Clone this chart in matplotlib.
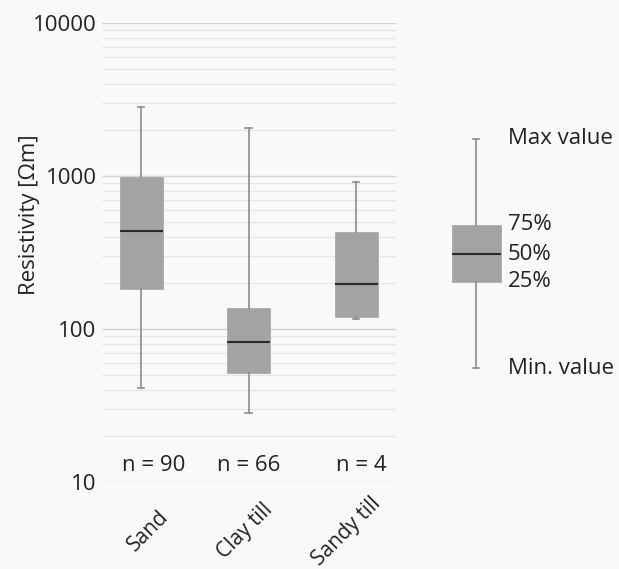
import matplotlib
matplotlib.use("Agg")
import matplotlib.pyplot as plt

plt.rcParams['font.family'] = ['Open Sans', 'DejaVu Sans']

# data (resistivity, ohm-m)
categories = ["Sand", "Clay till", "Sandy till"]
n_labels = ["n = 90", "n = 66", "n = 4"]
whisker_lo = [41, 28.3, 117]
q1 = [182, 51.5, 120]
median = [437, 82, 197]
q3 = [985, 137, 430]
whisker_hi = [2825, 2060, 915]

# explanatory key box on the right
key_stats = [55.6, 203, 309, 479, 1746]
key_labels = ["Min. value", "25%", "50%", "75%", "Max value"]

BG = "#f9f9f9"
BOX = "#a5a2a4"
TXT = "#222222"
FS = 16

fig = plt.figure(figsize=(6.19, 5.69), dpi=100, facecolor=BG)
ax = fig.add_axes([102/619, 1 - 482/569, 1 - 102/619, (482 - 23)/569])
ax.set_facecolor(BG)
ax.set_yscale('log')
ax.set_ylim(10, 10000)
ax.set_xlim(-0.363, 4.446)
for s in ax.spines.values():
    s.set_visible(False)

# grid lines only across the category area
grid_x0, grid_x1 = -0.363, 2.372
for dec in [10, 100, 1000]:
    for m in range(2, 10):
        ax.hlines(dec*m, grid_x0, grid_x1, color="#e6e6e6", lw=0.9, zorder=0)
for v in [10, 100, 1000, 10000]:
    ax.hlines(v, grid_x0, grid_x1, color="#d4d4d4", lw=1.0, zorder=0)

stats = []
for i in range(len(categories)):
    stats.append(dict(whislo=whisker_lo[i], q1=q1[i], med=median[i],
                      q3=q3[i], whishi=whisker_hi[i], fliers=[]))

style = dict(
    patch_artist=True,
    boxprops=dict(facecolor=BOX, edgecolor=BOX, lw=0.5),
    medianprops=dict(color="#2a2a2a", lw=1.5),
    whiskerprops=dict(color="#8c8c8c", lw=1.2),
    capprops=dict(color="#8c8c8c", lw=1.2),
    showfliers=False,
)
ax.bxp(stats, positions=range(len(categories)), widths=0.4,
       capwidths=0.06, manage_ticks=False, **style)

key = dict(whislo=key_stats[0], q1=key_stats[1], med=key_stats[2],
           q3=key_stats[3], whishi=key_stats[4], fliers=[])
ax.bxp([key], positions=[3.116], widths=0.456, capwidths=0.06,
       manage_ticks=False, **style)
for val, lab in zip(key_stats, key_labels):
    ax.text(3.41, val, lab, fontsize=FS, va='center', ha='left', color=TXT)

# n labels
n_offsets = [0.12, 0.0, 0.05]
for i, lab in enumerate(n_labels):
    ax.text(i + n_offsets[i], 12.9, lab, fontsize=FS, ha='center', va='center',
            color=TXT)

ax.set_yticks([10, 100, 1000, 10000])
ax.set_yticklabels(["10", "100", "1000", "10000"])
ax.yaxis.set_minor_locator(matplotlib.ticker.NullLocator())
ax.tick_params(axis='y', length=0, pad=4, labelsize=FS, labelcolor=TXT)

# rotated category labels, centred below each box
ax.set_xticks([])
cat_offsets = [0.07, -0.03, -0.09]
for i, lab in enumerate(categories):
    ax.text(i + cat_offsets[i], -0.107, lab, transform=ax.get_xaxis_transform(),
            rotation=45, rotation_mode='anchor', ha='center', va='center',
            fontsize=15, color=TXT)

fig.text(30/619, 1 - 215/569, "Resistivity [Ωm]", rotation=90, fontsize=FS,
         ha='center', va='center', color=TXT)

fig.savefig("out.png", dpi=100, facecolor=BG)
